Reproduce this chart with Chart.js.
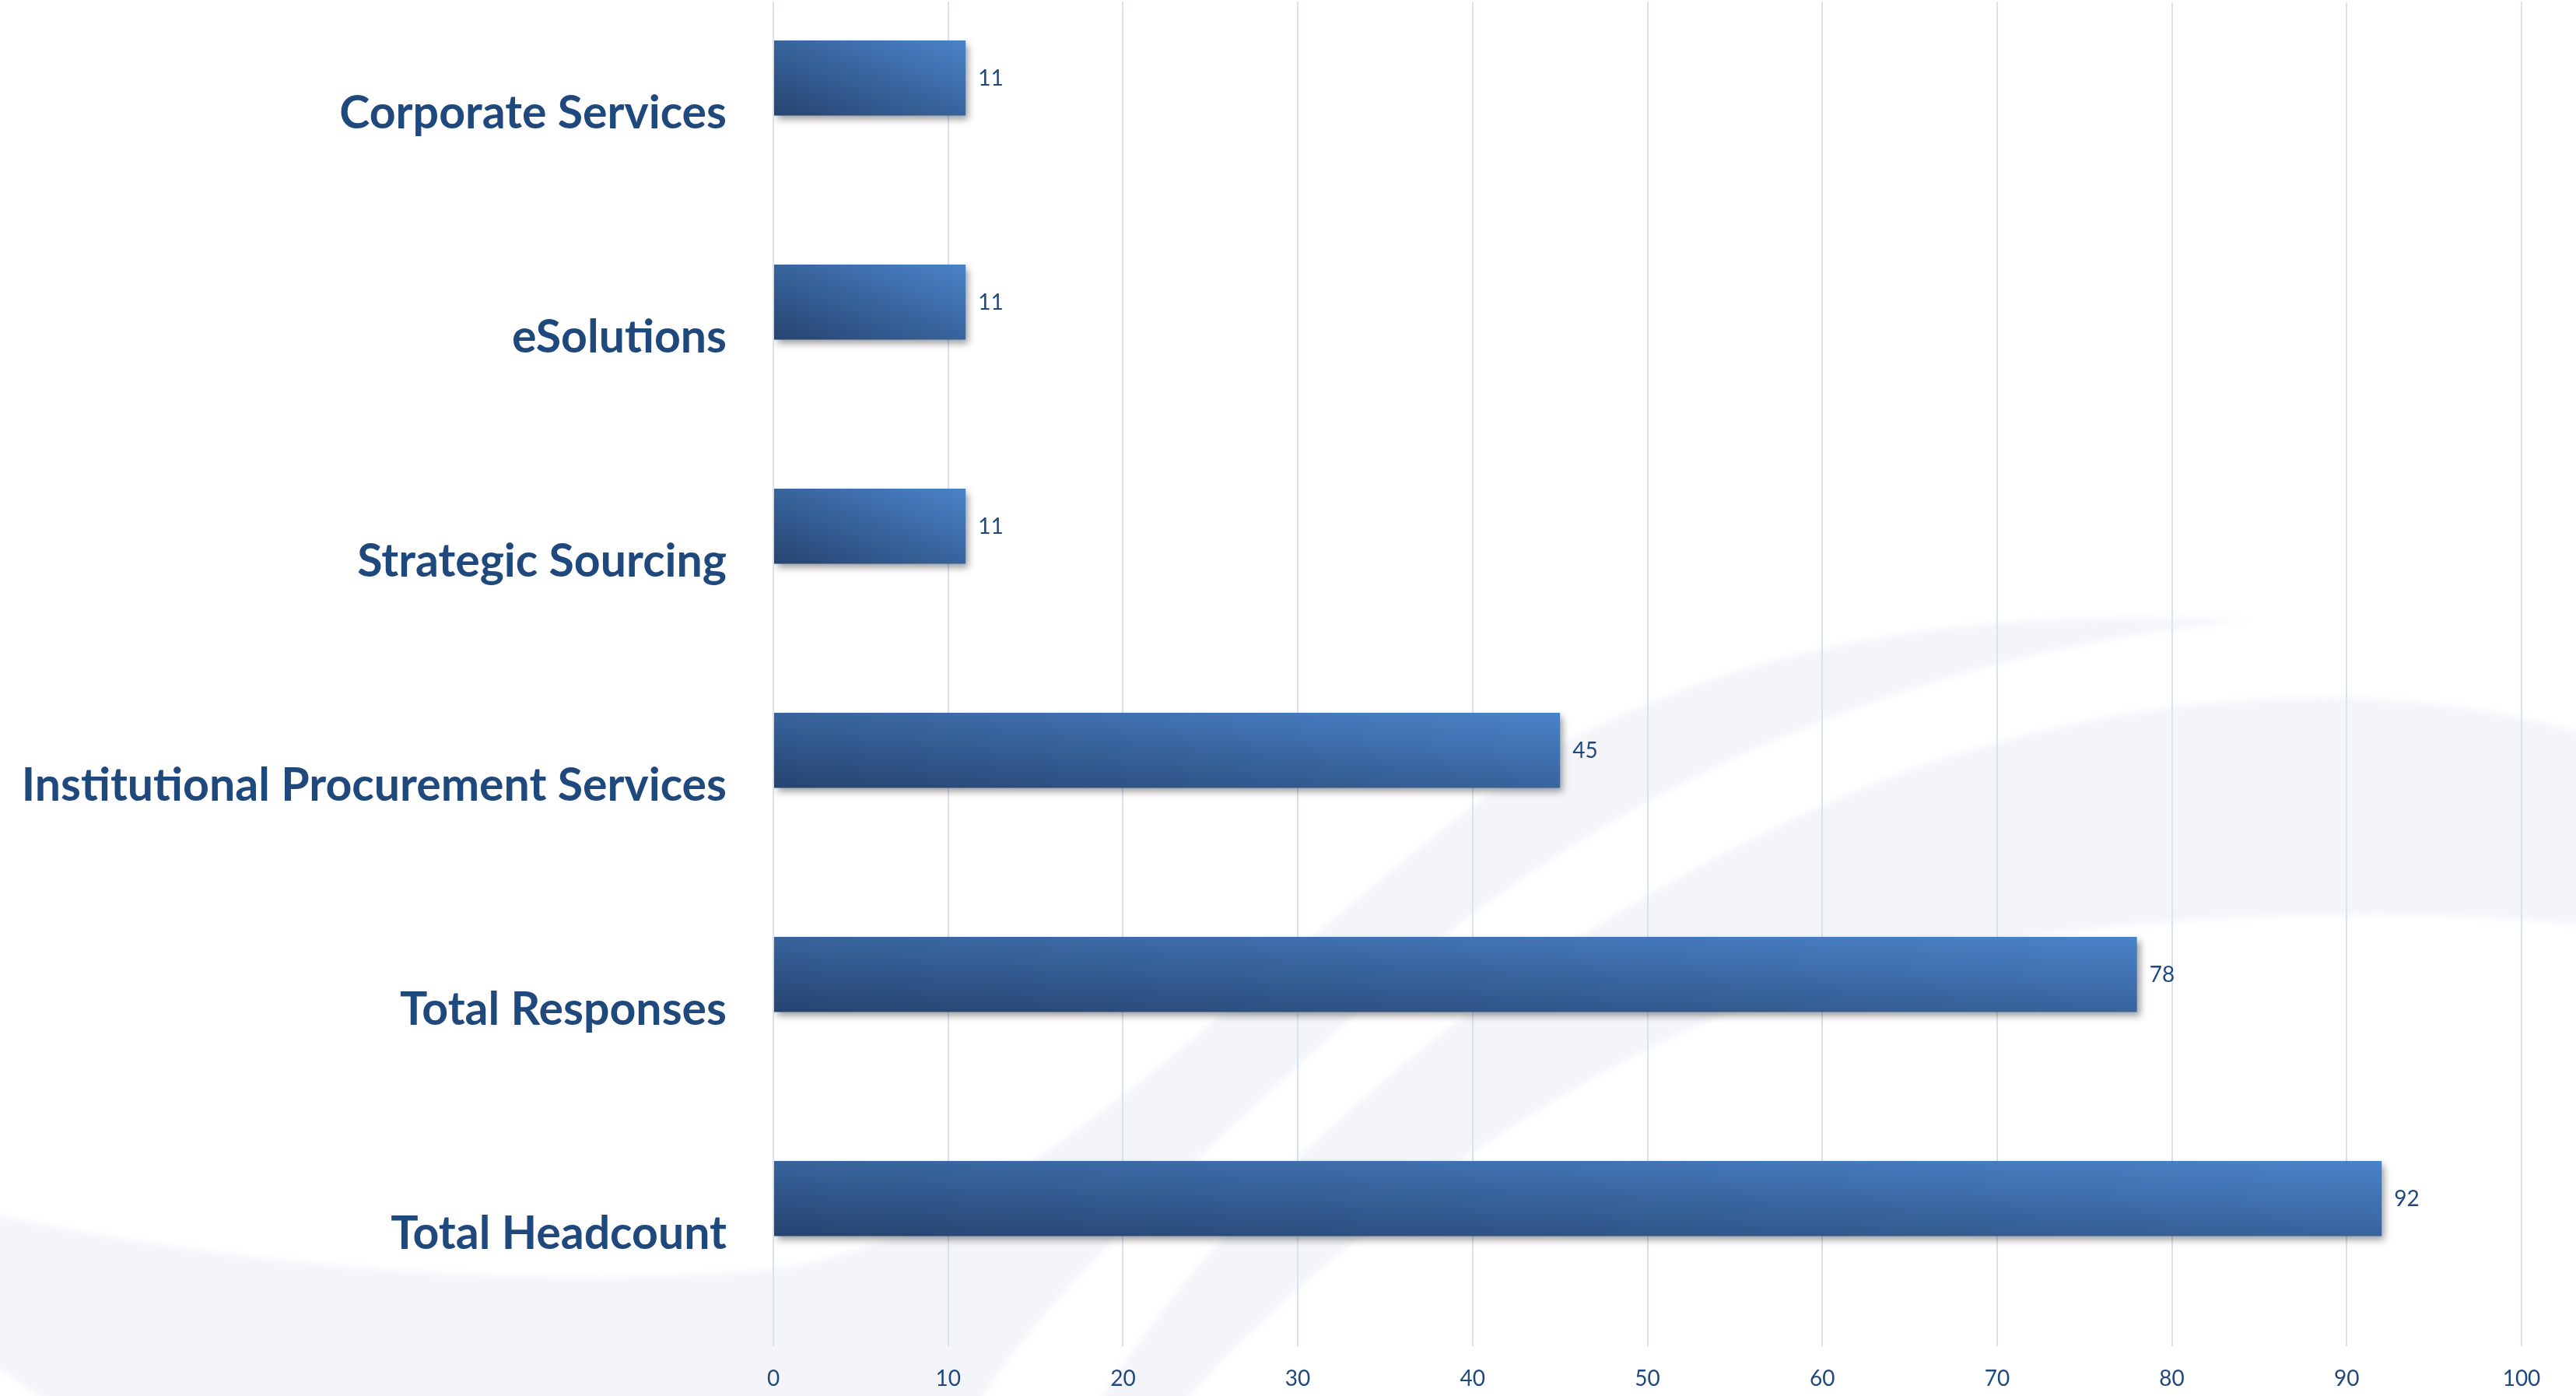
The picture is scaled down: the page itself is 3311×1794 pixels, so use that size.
<!DOCTYPE html>
<html lang="en">
<head>
  <meta charset="UTF-8" />
  <title>Survey responses by unit</title>
  <script src="https://cdn.jsdelivr.net/npm/chart.js"></script>
  <style>
    html, body { margin: 0; padding: 0; background: #fff; }
    canvas { display: block; }
  </style>
</head>
<body>
<canvas id="chart" width="3311" height="1794"></canvas>

<script>
const categories = ['Corporate Services', 'eSolutions', 'Strategic Sourcing',
  'Institutional Procurement Services', 'Total Responses', 'Total Headcount'];
const counts = [11, 11, 11, 45, 78, 92];
// second (empty) series, as in the original clustered chart
const spacer = [null, null, null, null, null, null];
const axisMax = 100;
const axisStep = 10;

const textBlue = '#1f497d';
const catPct = 0.635, barPct = 1.057;

// bar fill: dark bottom-left to light top-right, stretched to the bar box
function barFill(c) {
  const flat = '#3c6aa8';
  if (c.type !== 'data') return flat;
  const chart = c.chart, xs = chart.scales.x, ys = chart.scales.y;
  if (!xs || !ys) return flat;
  const x0 = xs.getPixelForValue(0);
  const x1 = xs.getPixelForValue(counts[c.dataIndex]);
  const band = ys.getPixelForValue(1) - ys.getPixelForValue(0);
  const slot = band * catPct / 2;
  const h = slot * barPct;
  const center = ys.getPixelForValue(c.dataIndex) - band * catPct / 2 + slot / 2;
  const bottom = center + h / 2;
  const w = x1 - x0;
  if (![x0, x1, band, center].every(Number.isFinite) || w <= 0 || h <= 0) return flat;
  const k = 1 / (1 / (4 * w * w) + 1 / (4 * h * h));
  const gx = k / (2 * w), gy = k / (2 * h);
  const g = chart.ctx.createLinearGradient(x0, bottom, x0 + gx, bottom - gy);
  g.addColorStop(0, '#264470');
  g.addColorStop(1, '#4a83c9');
  return g;
}

const backdrop = {
  id: 'backdrop',
  beforeDraw(chart) {
    const ctx = chart.ctx;
    ctx.save();
    ctx.fillStyle = '#ffffff';
    ctx.fillRect(0, 0, chart.width, chart.height);
    ctx.filter = 'blur(5px)';
    ctx.fillStyle = '#f3f5f9';
    // left swoosh
    ctx.beginPath();
    ctx.moveTo(-20, 1558);
    ctx.bezierCurveTo(300, 1628, 700, 1660, 1000, 1630);
    ctx.bezierCurveTo(1350, 1580, 1650, 1190, 2000, 960);
    ctx.bezierCurveTo(2300, 800, 2600, 785, 2900, 797);
    ctx.bezierCurveTo(2500, 830, 2100, 990, 1800, 1250);
    ctx.bezierCurveTo(1550, 1480, 1350, 1650, 1254, 1810);
    ctx.lineTo(70, 1810);
    ctx.lineTo(-20, 1745);
    ctx.closePath();
    ctx.fill();
    // right swoosh
    ctx.beginPath();
    ctx.moveTo(1407, 1810);
    ctx.bezierCurveTo(1600, 1500, 1950, 1200, 2400, 1010);
    ctx.bezierCurveTo(2700, 890, 3050, 860, 3330, 945);
    ctx.lineTo(3330, 1190);
    ctx.bezierCurveTo(3050, 1160, 2700, 1175, 2400, 1240);
    ctx.bezierCurveTo(2050, 1330, 1700, 1600, 1515, 1810);
    ctx.closePath();
    ctx.fill();
    ctx.restore();
  }
};

const barShadow = {
  id: 'barShadow',
  beforeDatasetsDraw(chart) {
    const ctx = chart.ctx;
    ctx.save();
    ctx.shadowColor = 'rgba(0,0,0,0.38)';
    ctx.shadowBlur = 9;
    ctx.shadowOffsetX = 4;
    ctx.shadowOffsetY = 5;
  },
  afterDatasetsDraw(chart) {
    chart.ctx.restore();
  }
};

const valueLabels = {
  id: 'valueLabels',
  afterDraw(chart) {
    const ctx = chart.ctx;
    const meta = chart.getDatasetMeta(0);
    ctx.save();
    ctx.font = '28px Lato';
    ctx.fillStyle = textBlue;
    ctx.textAlign = 'left';
    ctx.textBaseline = 'middle';
    meta.data.forEach((bar, i) => {
      ctx.fillText(String(counts[i]), bar.x + 16, bar.y + 1);
    });
    ctx.restore();
  }
};

new Chart(document.getElementById('chart'), {
  type: 'bar',
  data: {
    labels: categories,
    datasets: [
      { label: 'Count', data: counts, backgroundColor: barFill, borderWidth: 0 },
      { label: 'spacer', data: spacer, backgroundColor: 'rgba(0,0,0,0)' }
    ]
  },
  options: {
    indexAxis: 'y',
    responsive: false,
    animation: false,
    categoryPercentage: catPct,
    barPercentage: barPct,
    layout: { padding: { top: 2, right: 70, bottom: 0, left: 0 } },
    plugins: { legend: { display: false }, tooltip: { enabled: false } },
    scales: {
      x: {
        min: 0,
        max: axisMax,
        border: { display: false },
        grid: { color: '#d6e3f2', lineWidth: 2, drawTicks: false },
        afterFit(scale) {
          scale.height = 64;
          scale.paddingLeft = 0;
          scale.paddingRight = 0;
        },
        ticks: { stepSize: axisStep, padding: 25, color: textBlue, font: { family: 'Lato', size: 28 } }
      },
      y: {
        border: { display: false },
        grid: { display: false, drawTicks: false },
        afterFit(scale) {
          scale.width = 994;
          scale.paddingTop = 0;
          scale.paddingBottom = 0;
        },
        ticks: { padding: 60, color: textBlue, font: { family: 'Lato', size: 59, weight: 'bold' } }
      }
    }
  },
  plugins: [backdrop, barShadow, valueLabels]
});
</script>
</body>
</html>
